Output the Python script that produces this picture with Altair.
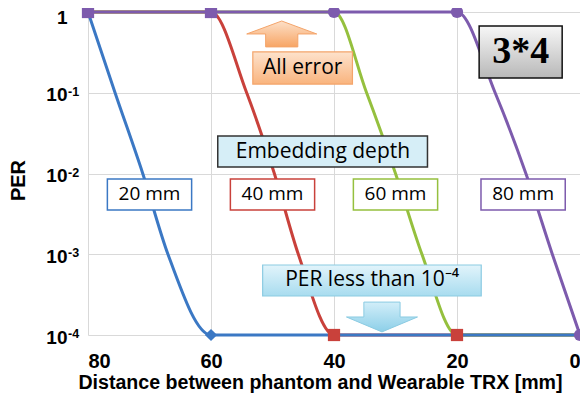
import altair as alt
import pandas as pd

# ---- data ----
depth_labels = ["20 mm", "40 mm", "60 mm", "80 mm"]
distance_20 = [80, 75.6, 71.1, 67.0, 60, 40, 20, 0]
per_20 = [1, 1e-1, 1e-2, 1e-3, 1e-4, 1e-4, 1e-4, 1e-4]
distance_40 = [80, 60, 54.2, 49.7, 45.8, 40, 20, 0]
per_40 = [1, 1, 1e-1, 1e-2, 1e-3, 1e-4, 1e-4, 1e-4]
distance_60 = [80, 60, 40, 34.7, 30.0, 25.7, 20, 0]
per_60 = [1, 1, 1, 1e-1, 1e-2, 1e-3, 1e-4, 1e-4]
distance_80 = [80, 60, 40, 20, 13.8, 8.8, 4.5, 0]
per_80 = [1, 1, 1, 1, 1e-1, 1e-2, 1e-3, 1e-4]

marker_distance = [80, 60, 40, 20, 60, 40, 20, 0]
marker_per = [1, 1, 1, 1, 1e-4, 1e-4, 1e-4, 1e-4]
marker_series = ["80 mm", "80 mm", "80 mm", "80 mm", "20 mm", "40 mm", "40 mm", "80 mm"]
marker_shape = ["square", "square", "circle", "circle", "diamond", "square", "square", "circle"]

x_ticks = [80, 60, 40, 20, 0]
y_ticks = [1e-4, 1e-3, 1e-2, 1e-1, 1]
y_tick_bases = ["10", "10", "10", "10", "1"]
y_tick_exponents = ["-4", "-3", "-2", "-1", ""]

colors = {"20 mm": "#3B78C4", "40 mm": "#C9413B", "60 mm": "#95C03E", "80 mm": "#7D5BAD"}

xscale = alt.Scale(domain=[0, 80], reverse=True, nice=False, zero=False)
yscale = alt.Scale(type="log", domain=[1e-4, 1], nice=False)

AX_FONT = "Liberation Sans"
BOX_FONT = "Open Sans"

x_axis = alt.Axis(values=x_ticks, title="Distance between phantom and Wearable TRX [mm]",
                  labelFont=AX_FONT, labelFontSize=20, labelFontWeight="bold", labelColor="black",
                  titleFont=AX_FONT, titleFontSize=19.6, titleFontWeight="bold", titleColor="black",
                  ticks=False, domain=False, labelPadding=16,
                  grid=True, gridColor="#d9d9d9", gridWidth=1,
                  titleX=232, titleY=53, titleBaseline="alphabetic", titleAnchor="middle")
y_axis = alt.Axis(values=y_ticks, title="PER",
                  labelExpr="[" + ",".join(f"'{l}'" for l in y_tick_bases) + "][round(log(datum.value)/LN10)+4]",
                  labelFont=AX_FONT, labelFontSize=19, labelFontWeight="bold", labelColor="black",
                  labelBaseline="middle",
                  labelOffset={"condition": {"test": "datum.value >= 0.99", "value": 5}, "value": 2},
                  titleFont=AX_FONT, titleFontSize=20, titleFontWeight="bold", titleColor="black",
                  ticks=False, domain=False, labelPadding=21,
                  grid=True, gridColor="#d9d9d9", gridWidth=1,
                  titleX=-70, titleY=168, titleBaseline="middle", titleAngle=-90)


def X(field):
    return alt.X(field, scale=xscale, axis=x_axis)


def Y(field):
    return alt.Y(field, scale=yscale, axis=y_axis)


series = [("40 mm", distance_40, per_40), ("60 mm", distance_60, per_60),
          ("80 mm", distance_80, per_80), ("20 mm", distance_20, per_20)]

layers = []
for name, d, p in series:
    df = pd.DataFrame({"distance": d, "per": p, "series": name})
    layers.append(
        alt.Chart(df).mark_line(interpolate="monotone", strokeWidth=3, color=colors[name]).encode(
            x=X("distance:Q"), y=Y("per:Q"),
            order=alt.Order("distance:Q", sort="descending"),
        )
    )

mdf = pd.DataFrame({"distance": marker_distance, "per": marker_per,
                    "series": marker_series, "shape": marker_shape})
layers.append(
    alt.Chart(mdf).mark_point(filled=True, size=150, opacity=1).encode(
        x=X("distance:Q"), y=Y("per:Q"),
        color=alt.Color("series:N", scale=alt.Scale(domain=list(colors), range=list(colors.values())), legend=None),
        shape=alt.Shape("shape:N", scale=None),
    )
)

# exponents of the y tick labels
edf = pd.DataFrame({"distance": [80] * len(y_ticks), "per": y_ticks, "t": y_tick_exponents})
layers.append(
    alt.Chart(edf).mark_text(font=AX_FONT, fontSize=12.5, fontWeight="bold", color="black",
                             align="left", baseline="middle", dx=-20, dy=-1).encode(
        x=X("distance:Q"), y=Y("per:Q"), text="t:N")
)


def grad(top, bottom):
    return alt.Gradient(gradient="linear", x1=0, y1=0, x2=0, y2=1,
                        stops=[alt.GradientStop(color=top, offset=0), alt.GradientStop(color=bottom, offset=1)])


def box(d1, d2, l1, l2, fill, stroke, sw=1.5):
    df = pd.DataFrame({"distance": [d1], "d2": [d2], "per": [10 ** l1], "p2": [10 ** l2]})
    return alt.Chart(df).mark_rect(fill=fill, stroke=stroke, strokeWidth=sw).encode(
        x=X("distance:Q"), x2="d2:Q", y=Y("per:Q"), y2="p2:Q")


def label(d, l, text, size, color="black", font=BOX_FONT, weight="normal"):
    df = pd.DataFrame({"distance": [d], "per": [10 ** l], "t": [text]})
    return alt.Chart(df).mark_text(fontSize=size, font=font, fontWeight=weight, color=color,
                                   align="center", baseline="middle").encode(
        x=X("distance:Q"), y=Y("per:Q"), text="t:N")


def arrow(d, l, path, size, fill, stroke):
    df = pd.DataFrame({"distance": [d], "per": [10 ** l]})
    return alt.Chart(df).mark_point(shape=path, size=size, filled=True, fill=fill, stroke=stroke,
                                    strokeWidth=1, opacity=1).encode(
        x=X("distance:Q"), y=Y("per:Q"))


up_path = "M0,-0.37 L1,0 L0.46,0 L0.46,0.37 L-0.46,0.37 L-0.46,0 L-1,0 Z"
down_path = "M-0.51,-0.42 L0.51,-0.42 L0.51,0 L1,0 L0,0.42 L-1,0 L-0.51,0 Z"

# 3*4 box
layers.append(box(16.4, 2.9, -0.173, -0.817, grad("#f7f7f7", "#b8b8b8"), "#111111", 1.5))
layers.append(label(9.65, -0.495, "3*4", 38, font="Liberation Serif", weight="bold"))
# All error
layers.append(arrow(48.5, -0.272, up_path, 4900, grad("#fde0c8", "#f7a565"), "#f4a46a"))
layers.append(box(53.2, 37.0, -0.495, -0.892, grad("#fde2cc", "#f9b47e"), "#f4a46a", 1.2))
layers.append(label(45.1, -0.693, "All error", 21))
# Embedding depth
layers.append(box(58.9, 24.8, -1.536, -1.920, "#d6eef7", "#333333", 1.5))
layers.append(label(41.8, -1.728, "Embedding depth", 21))
# depth boxes
for name, c in zip(depth_labels, [70.0, 50.0, 30.0, 9.25]):
    layers.append(box(c + 6.85, c - 6.85, -2.068, -2.452, "white", colors[name], 1.5))
    layers.append(label(c, -2.26, name, 19))
# PER less than
layers.append(box(51.6, 16.06, -3.133, -3.517, grad("#e2f4fb", "#a8dcef"), "#8bcbe2", 1.2))
layers.append(label(33.8, -3.325, "PER less than 10⁻⁴", 21))
layers.append(arrow(32.2, -3.777, down_path, 5041, grad("#d2eef9", "#8ccfe8"), "#8bcbe2"))

chart = alt.layer(*layers).properties(
    width=492, height=323,
    autosize=alt.AutoSizeParams(type="none"),
    padding={"left": 80, "top": 4, "right": 0, "bottom": 58},
).configure_view(stroke=None)

chart.save("out.html", embed_options={"renderer": "svg", "actions": False})
